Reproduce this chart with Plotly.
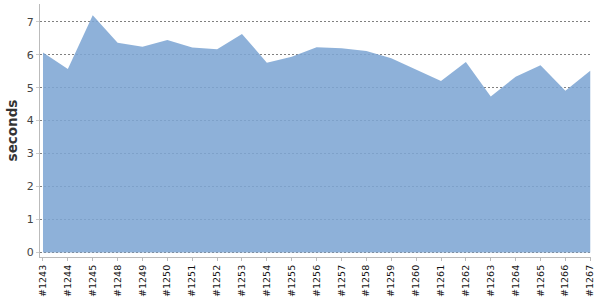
import plotly.graph_objects as go

builds = ["#1243", "#1244", "#1245", "#1248", "#1249", "#1250", "#1251", "#1252",
          "#1253", "#1254", "#1255", "#1256", "#1257", "#1258", "#1259", "#1260",
          "#1261", "#1262", "#1263", "#1264", "#1265", "#1266", "#1267"]
seconds = [6.07, 5.57, 7.20, 6.36, 6.24, 6.45, 6.22, 6.17,
           6.63, 5.76, 5.94, 6.23, 6.20, 6.11, 5.89, 5.54,
           5.20, 5.78, 4.73, 5.33, 5.68, 4.91, 5.51]
y_ticks = [0, 1, 2, 3, 4, 5, 6, 7]

fill = "rgba(125,165,211,0.87)"

fig = go.Figure()
fig.add_trace(go.Scatter(
    x=list(range(len(builds))), y=seconds,
    mode="lines", fill="tozeroy",
    line=dict(width=0, color=fill),
    fillcolor=fill,
    hoverinfo="skip",
))

fig.update_layout(
    template="none",
    width=600, height=300,
    margin=dict(l=40, r=9, t=4, b=43, pad=0),
    paper_bgcolor="white", plot_bgcolor="white",
    showlegend=False,
    font=dict(family="DejaVu Sans", color="#444"),
)
fig.update_xaxes(
    automargin=False,
    tickmode="array", tickvals=list(range(len(builds))), ticktext=builds,
    tickangle=-90, tickfont=dict(size=9.5, color="#111"),
    range=[-0.12, 22.03], showgrid=False, zeroline=False,
    showline=True, linecolor="#bbb", linewidth=1,
    ticks="outside", ticklen=3, tickcolor="#bbb",
)
fig.update_yaxes(
    automargin=False,
    tickmode="array", tickvals=y_ticks,
    tickfont=dict(size=11, color="#444"),
    range=[-0.14, 7.54], showgrid=True, gridcolor="#808080", griddash="2px,2px",
    gridwidth=1, zeroline=False,
    showline=True, linecolor="#bbb", linewidth=1,
    ticks="outside", ticklen=3, tickcolor="#ccc",
    title=dict(text="<b>seconds</b>", font=dict(size=13.5, color="#333"), standoff=6),
)

fig.write_html("out.html")
